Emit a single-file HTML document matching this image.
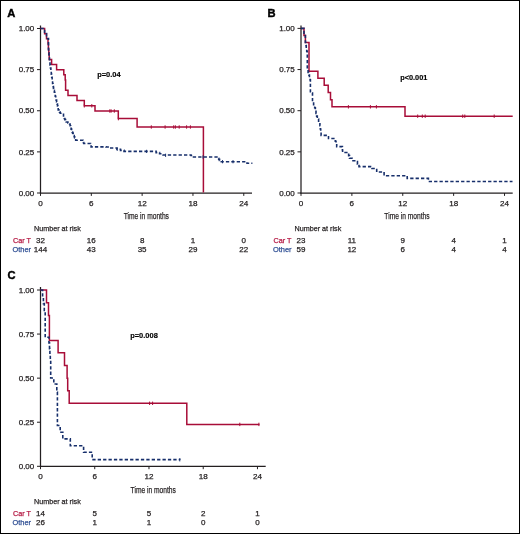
<!DOCTYPE html>
<html><head><meta charset="utf-8"><title>Figure</title>
<style>
html,body{margin:0;padding:0;background:#fff;}
body{width:520px;height:534px;overflow:hidden;}
svg{display:block;font-family:"Liberation Sans",Arial,Helvetica,sans-serif;}
</style></head><body>
<svg width="520" height="534" viewBox="0 0 520 534">
<rect x="0" y="0" width="520" height="534" fill="#fff"/>
<text x="7.20" y="17.00" font-size="11.20" text-anchor="start" fill="#000" stroke="#000" stroke-width="0.40" font-weight="bold">A</text><line x1="40.50" y1="25.50" x2="40.50" y2="193.60" stroke="#231f20" stroke-width="1.25"/><line x1="39.90" y1="193.00" x2="252.00" y2="193.00" stroke="#231f20" stroke-width="1.25"/><line x1="37.00" y1="193.00" x2="40.50" y2="193.00" stroke="#231f20" stroke-width="1"/><text x="34.30" y="195.70" font-size="7.80" text-anchor="end" fill="#231f20" stroke="#231f20" stroke-width="0.25" font-weight="normal" textLength="15.60" lengthAdjust="spacingAndGlyphs">0.00</text><line x1="37.00" y1="151.88" x2="40.50" y2="151.88" stroke="#231f20" stroke-width="1"/><text x="34.30" y="154.57" font-size="7.80" text-anchor="end" fill="#231f20" stroke="#231f20" stroke-width="0.25" font-weight="normal" textLength="15.60" lengthAdjust="spacingAndGlyphs">0.25</text><line x1="37.00" y1="110.75" x2="40.50" y2="110.75" stroke="#231f20" stroke-width="1"/><text x="34.30" y="113.45" font-size="7.80" text-anchor="end" fill="#231f20" stroke="#231f20" stroke-width="0.25" font-weight="normal" textLength="15.60" lengthAdjust="spacingAndGlyphs">0.50</text><line x1="37.00" y1="69.62" x2="40.50" y2="69.62" stroke="#231f20" stroke-width="1"/><text x="34.30" y="72.33" font-size="7.80" text-anchor="end" fill="#231f20" stroke="#231f20" stroke-width="0.25" font-weight="normal" textLength="15.60" lengthAdjust="spacingAndGlyphs">0.75</text><line x1="37.00" y1="28.50" x2="40.50" y2="28.50" stroke="#231f20" stroke-width="1"/><text x="34.30" y="31.20" font-size="7.80" text-anchor="end" fill="#231f20" stroke="#231f20" stroke-width="0.25" font-weight="normal" textLength="15.60" lengthAdjust="spacingAndGlyphs">1.00</text><line x1="40.50" y1="193.00" x2="40.50" y2="195.90" stroke="#231f20" stroke-width="1"/><text x="40.50" y="205.90" font-size="8.10" text-anchor="middle" fill="#231f20" stroke="#231f20" stroke-width="0.25" font-weight="normal">0</text><line x1="91.32" y1="193.00" x2="91.32" y2="195.90" stroke="#231f20" stroke-width="1"/><text x="91.32" y="205.90" font-size="8.10" text-anchor="middle" fill="#231f20" stroke="#231f20" stroke-width="0.25" font-weight="normal">6</text><line x1="142.14" y1="193.00" x2="142.14" y2="195.90" stroke="#231f20" stroke-width="1"/><text x="142.14" y="205.90" font-size="8.10" text-anchor="middle" fill="#231f20" stroke="#231f20" stroke-width="0.25" font-weight="normal">12</text><line x1="192.96" y1="193.00" x2="192.96" y2="195.90" stroke="#231f20" stroke-width="1"/><text x="192.96" y="205.90" font-size="8.10" text-anchor="middle" fill="#231f20" stroke="#231f20" stroke-width="0.25" font-weight="normal">18</text><line x1="243.78" y1="193.00" x2="243.78" y2="195.90" stroke="#231f20" stroke-width="1"/><text x="243.78" y="205.90" font-size="8.10" text-anchor="middle" fill="#231f20" stroke="#231f20" stroke-width="0.25" font-weight="normal">24</text><text x="123.75" y="219.30" font-size="9.60" text-anchor="start" fill="#231f20" stroke="#231f20" stroke-width="0.25" font-weight="normal" textLength="45.20" lengthAdjust="spacingAndGlyphs">Time in months</text><text x="34.00" y="230.80" font-size="7.80" text-anchor="start" fill="#231f20" stroke="#231f20" stroke-width="0.25" font-weight="normal" textLength="46.80" lengthAdjust="spacingAndGlyphs">Number at risk</text><text x="13.00" y="242.60" font-size="7.80" text-anchor="start" fill="#b51a44" stroke="#b51a44" stroke-width="0.25" font-weight="normal" textLength="18.00" lengthAdjust="spacingAndGlyphs">Car T</text><text x="12.50" y="252.00" font-size="7.80" text-anchor="start" fill="#2f4f94" stroke="#2f4f94" stroke-width="0.25" font-weight="normal" textLength="18.60" lengthAdjust="spacingAndGlyphs">Other</text><text x="40.50" y="242.60" font-size="8.00" text-anchor="middle" fill="#231f20" stroke="#231f20" stroke-width="0.25" font-weight="normal">32</text><text x="91.32" y="242.60" font-size="8.00" text-anchor="middle" fill="#231f20" stroke="#231f20" stroke-width="0.25" font-weight="normal">16</text><text x="142.14" y="242.60" font-size="8.00" text-anchor="middle" fill="#231f20" stroke="#231f20" stroke-width="0.25" font-weight="normal">8</text><text x="192.96" y="242.60" font-size="8.00" text-anchor="middle" fill="#231f20" stroke="#231f20" stroke-width="0.25" font-weight="normal">1</text><text x="243.78" y="242.60" font-size="8.00" text-anchor="middle" fill="#231f20" stroke="#231f20" stroke-width="0.25" font-weight="normal">0</text><text x="40.50" y="252.00" font-size="8.00" text-anchor="middle" fill="#231f20" stroke="#231f20" stroke-width="0.25" font-weight="normal">144</text><text x="91.32" y="252.00" font-size="8.00" text-anchor="middle" fill="#231f20" stroke="#231f20" stroke-width="0.25" font-weight="normal">43</text><text x="142.14" y="252.00" font-size="8.00" text-anchor="middle" fill="#231f20" stroke="#231f20" stroke-width="0.25" font-weight="normal">35</text><text x="192.96" y="252.00" font-size="8.00" text-anchor="middle" fill="#231f20" stroke="#231f20" stroke-width="0.25" font-weight="normal">29</text><text x="243.78" y="252.00" font-size="8.00" text-anchor="middle" fill="#231f20" stroke="#231f20" stroke-width="0.25" font-weight="normal">22</text><path d="M40.50,28.50 L44.60,28.50 L44.60,33.70 L46.50,33.70 L46.50,38.80 L48.00,38.80 L48.00,44.00 L48.40,44.00 L48.40,49.10 L48.80,49.10 L48.80,54.30 L49.20,54.30 L49.20,59.40 L51.60,59.40 L51.60,64.60 L56.60,64.60 L56.60,69.70 L63.80,69.70 L63.80,74.80 L65.20,74.80 L65.20,80.00 L65.60,80.00 L65.60,90.30 L68.00,90.30 L68.00,95.50 L77.00,95.50 L77.00,100.60 L84.30,100.60 L84.30,105.80 L95.00,105.80 L95.00,111.00 L118.30,111.00 L118.30,118.60 L137.10,118.60 L137.10,127.00 L203.40,127.00 L203.40,192.50" fill="none" stroke="#a80d38" stroke-width="1.5" stroke-linejoin="miter"/><line x1="84.30" y1="104.10" x2="84.30" y2="107.50" stroke="#a80d38" stroke-width="1.00"/><line x1="91.80" y1="104.10" x2="91.80" y2="107.50" stroke="#a80d38" stroke-width="1.00"/><line x1="109.80" y1="109.30" x2="109.80" y2="112.70" stroke="#a80d38" stroke-width="1.00"/><line x1="111.10" y1="109.30" x2="111.10" y2="112.70" stroke="#a80d38" stroke-width="1.00"/><line x1="114.30" y1="109.30" x2="114.30" y2="112.70" stroke="#a80d38" stroke-width="1.00"/><line x1="118.40" y1="116.90" x2="118.40" y2="120.30" stroke="#a80d38" stroke-width="1.00"/><line x1="151.30" y1="125.30" x2="151.30" y2="128.70" stroke="#a80d38" stroke-width="1.00"/><line x1="165.10" y1="125.30" x2="165.10" y2="128.70" stroke="#a80d38" stroke-width="1.00"/><line x1="173.70" y1="125.30" x2="173.70" y2="128.70" stroke="#a80d38" stroke-width="1.00"/><line x1="175.40" y1="125.30" x2="175.40" y2="128.70" stroke="#a80d38" stroke-width="1.00"/><line x1="179.20" y1="125.30" x2="179.20" y2="128.70" stroke="#a80d38" stroke-width="1.00"/><line x1="186.60" y1="125.30" x2="186.60" y2="128.70" stroke="#a80d38" stroke-width="1.00"/><line x1="190.40" y1="125.30" x2="190.40" y2="128.70" stroke="#a80d38" stroke-width="1.00"/><path d="M40.50,28.50 L44.60,28.50 L44.60,33.50 L46.50,33.50 L46.50,38.50 L48.00,38.50 L48.50,38.50 L48.50,52.70 L49.00,52.70 L49.00,56.80 L49.50,56.80 L49.50,60.90 L50.00,60.90 L50.00,65.00 L50.43,65.00 L50.43,68.07 L50.86,68.07 L50.86,71.14 L51.29,71.14 L51.29,74.21 L51.71,74.21 L51.71,77.29 L52.14,77.29 L52.14,80.36 L52.57,80.36 L52.57,83.43 L53.00,83.43 L53.00,86.50 L53.45,86.50 L53.45,88.44 L53.90,88.44 L53.90,90.38 L54.35,90.38 L54.35,92.32 L54.80,92.32 L54.80,94.26 L55.25,94.26 L55.25,96.20 L55.70,96.20 L55.70,98.14 L56.15,98.14 L56.15,100.08 L56.60,100.08 L56.60,102.02 L57.05,102.02 L57.05,103.96 L57.50,103.96 L57.50,105.90 L57.85,105.90 L57.85,107.90 L58.20,107.90 L58.20,109.90 L58.87,109.90 L58.87,111.03 L59.53,111.03 L59.53,112.17 L60.20,112.17 L60.20,113.30 L63.50,113.30 L63.50,114.00 L63.50,117.30 L64.17,117.30 L64.17,118.47 L64.85,118.47 L64.85,119.65 L65.53,119.65 L65.53,120.83 L66.20,120.83 L66.20,122.00 L67.90,122.00 L67.90,123.00 L69.60,123.00 L69.60,124.00 L70.10,124.00 L70.10,125.70 L70.60,125.70 L70.60,127.40 L71.10,127.40 L71.10,129.10 L71.60,129.10 L71.60,130.80 L72.11,130.80 L72.11,131.98 L72.62,131.98 L72.62,133.15 L73.14,133.15 L73.14,134.32 L73.65,134.32 L73.65,135.50 L74.16,135.50 L74.16,136.68 L74.67,136.68 L74.67,137.85 L75.19,137.85 L75.19,139.02 L75.70,139.02 L75.70,140.20 L83.00,140.20 L83.00,141.50 L83.35,141.50 L83.35,142.50 L83.70,142.50 L83.70,143.50 L90.50,143.50 L90.50,143.80 L91.10,143.80 L91.10,146.90 L106.00,146.90 L106.00,147.00 L110.00,147.00 L110.00,148.00 L117.00,148.00 L117.00,149.30 L120.50,149.30 L120.50,150.35 L124.00,150.35 L124.00,151.40 L152.70,151.40 L156.13,151.40 L156.13,152.60 L159.57,152.60 L159.57,153.80 L163.00,153.80 L163.00,155.00 L191.00,155.00 L191.00,155.50 L193.50,155.50 L193.50,157.00 L217.00,157.00 L217.85,157.00 L217.85,158.18 L218.70,158.18 L218.70,159.35 L219.55,159.35 L219.55,160.52 L220.40,160.52 L220.40,161.70 L244.60,161.70 L247.00,161.70 L247.00,163.30 L252.40,163.30" fill="none" stroke="#172f6b" stroke-width="1.6" stroke-dasharray="3.3 2.1"/><line x1="117.20" y1="147.70" x2="117.20" y2="150.90" stroke="#172f6b" stroke-width="1.00"/><line x1="146.60" y1="149.80" x2="146.60" y2="153.00" stroke="#172f6b" stroke-width="1.00"/><line x1="165.60" y1="153.70" x2="165.60" y2="156.90" stroke="#172f6b" stroke-width="1.00"/><line x1="203.00" y1="155.40" x2="203.00" y2="158.60" stroke="#172f6b" stroke-width="1.00"/><line x1="222.50" y1="160.10" x2="222.50" y2="163.30" stroke="#172f6b" stroke-width="1.00"/><line x1="233.00" y1="160.10" x2="233.00" y2="163.30" stroke="#172f6b" stroke-width="1.00"/><text x="97.20" y="77.20" font-size="7.40" text-anchor="start" fill="#000" stroke="#000" stroke-width="0.15" font-weight="bold" textLength="23.40" lengthAdjust="spacingAndGlyphs">p=0.04</text>
<text x="267.60" y="17.00" font-size="11.20" text-anchor="start" fill="#000" stroke="#000" stroke-width="0.40" font-weight="bold">B</text><line x1="301.00" y1="25.40" x2="301.00" y2="193.60" stroke="#231f20" stroke-width="1.25"/><line x1="300.40" y1="193.00" x2="512.70" y2="193.00" stroke="#231f20" stroke-width="1.25"/><line x1="297.50" y1="193.00" x2="301.00" y2="193.00" stroke="#231f20" stroke-width="1"/><text x="294.80" y="195.70" font-size="7.80" text-anchor="end" fill="#231f20" stroke="#231f20" stroke-width="0.25" font-weight="normal" textLength="15.60" lengthAdjust="spacingAndGlyphs">0.00</text><line x1="297.50" y1="151.85" x2="301.00" y2="151.85" stroke="#231f20" stroke-width="1"/><text x="294.80" y="154.55" font-size="7.80" text-anchor="end" fill="#231f20" stroke="#231f20" stroke-width="0.25" font-weight="normal" textLength="15.60" lengthAdjust="spacingAndGlyphs">0.25</text><line x1="297.50" y1="110.70" x2="301.00" y2="110.70" stroke="#231f20" stroke-width="1"/><text x="294.80" y="113.40" font-size="7.80" text-anchor="end" fill="#231f20" stroke="#231f20" stroke-width="0.25" font-weight="normal" textLength="15.60" lengthAdjust="spacingAndGlyphs">0.50</text><line x1="297.50" y1="69.55" x2="301.00" y2="69.55" stroke="#231f20" stroke-width="1"/><text x="294.80" y="72.25" font-size="7.80" text-anchor="end" fill="#231f20" stroke="#231f20" stroke-width="0.25" font-weight="normal" textLength="15.60" lengthAdjust="spacingAndGlyphs">0.75</text><line x1="297.50" y1="28.40" x2="301.00" y2="28.40" stroke="#231f20" stroke-width="1"/><text x="294.80" y="31.10" font-size="7.80" text-anchor="end" fill="#231f20" stroke="#231f20" stroke-width="0.25" font-weight="normal" textLength="15.60" lengthAdjust="spacingAndGlyphs">1.00</text><line x1="301.00" y1="193.00" x2="301.00" y2="195.90" stroke="#231f20" stroke-width="1"/><text x="301.00" y="205.90" font-size="8.10" text-anchor="middle" fill="#231f20" stroke="#231f20" stroke-width="0.25" font-weight="normal">0</text><line x1="351.88" y1="193.00" x2="351.88" y2="195.90" stroke="#231f20" stroke-width="1"/><text x="351.88" y="205.90" font-size="8.10" text-anchor="middle" fill="#231f20" stroke="#231f20" stroke-width="0.25" font-weight="normal">6</text><line x1="402.76" y1="193.00" x2="402.76" y2="195.90" stroke="#231f20" stroke-width="1"/><text x="402.76" y="205.90" font-size="8.10" text-anchor="middle" fill="#231f20" stroke="#231f20" stroke-width="0.25" font-weight="normal">12</text><line x1="453.64" y1="193.00" x2="453.64" y2="195.90" stroke="#231f20" stroke-width="1"/><text x="453.64" y="205.90" font-size="8.10" text-anchor="middle" fill="#231f20" stroke="#231f20" stroke-width="0.25" font-weight="normal">18</text><line x1="504.52" y1="193.00" x2="504.52" y2="195.90" stroke="#231f20" stroke-width="1"/><text x="504.52" y="205.90" font-size="8.10" text-anchor="middle" fill="#231f20" stroke="#231f20" stroke-width="0.25" font-weight="normal">24</text><text x="384.35" y="219.30" font-size="9.60" text-anchor="start" fill="#231f20" stroke="#231f20" stroke-width="0.25" font-weight="normal" textLength="45.20" lengthAdjust="spacingAndGlyphs">Time in months</text><text x="294.50" y="230.80" font-size="7.80" text-anchor="start" fill="#231f20" stroke="#231f20" stroke-width="0.25" font-weight="normal" textLength="46.80" lengthAdjust="spacingAndGlyphs">Number at risk</text><text x="273.50" y="242.60" font-size="7.80" text-anchor="start" fill="#b51a44" stroke="#b51a44" stroke-width="0.25" font-weight="normal" textLength="18.00" lengthAdjust="spacingAndGlyphs">Car T</text><text x="273.00" y="252.00" font-size="7.80" text-anchor="start" fill="#2f4f94" stroke="#2f4f94" stroke-width="0.25" font-weight="normal" textLength="18.60" lengthAdjust="spacingAndGlyphs">Other</text><text x="301.00" y="242.60" font-size="8.00" text-anchor="middle" fill="#231f20" stroke="#231f20" stroke-width="0.25" font-weight="normal">23</text><text x="351.88" y="242.60" font-size="8.00" text-anchor="middle" fill="#231f20" stroke="#231f20" stroke-width="0.25" font-weight="normal">11</text><text x="402.76" y="242.60" font-size="8.00" text-anchor="middle" fill="#231f20" stroke="#231f20" stroke-width="0.25" font-weight="normal">9</text><text x="453.64" y="242.60" font-size="8.00" text-anchor="middle" fill="#231f20" stroke="#231f20" stroke-width="0.25" font-weight="normal">4</text><text x="504.52" y="242.60" font-size="8.00" text-anchor="middle" fill="#231f20" stroke="#231f20" stroke-width="0.25" font-weight="normal">1</text><text x="301.00" y="252.00" font-size="8.00" text-anchor="middle" fill="#231f20" stroke="#231f20" stroke-width="0.25" font-weight="normal">59</text><text x="351.88" y="252.00" font-size="8.00" text-anchor="middle" fill="#231f20" stroke="#231f20" stroke-width="0.25" font-weight="normal">12</text><text x="402.76" y="252.00" font-size="8.00" text-anchor="middle" fill="#231f20" stroke="#231f20" stroke-width="0.25" font-weight="normal">6</text><text x="453.64" y="252.00" font-size="8.00" text-anchor="middle" fill="#231f20" stroke="#231f20" stroke-width="0.25" font-weight="normal">4</text><text x="504.52" y="252.00" font-size="8.00" text-anchor="middle" fill="#231f20" stroke="#231f20" stroke-width="0.25" font-weight="normal">4</text><path d="M301.00,28.40 L304.00,28.40 L304.00,35.50 L305.40,35.50 L305.40,42.60 L309.00,42.60 L309.00,71.20 L317.90,71.20 L317.90,78.20 L324.20,78.20 L324.20,85.30 L328.20,85.30 L328.20,92.60 L330.50,92.60 L330.50,99.80 L332.00,99.80 L332.00,106.80 L405.00,106.80 L405.00,116.20 L512.70,116.20" fill="none" stroke="#a80d38" stroke-width="1.5" stroke-linejoin="miter"/><line x1="348.40" y1="105.10" x2="348.40" y2="108.50" stroke="#a80d38" stroke-width="1.00"/><line x1="370.40" y1="105.10" x2="370.40" y2="108.50" stroke="#a80d38" stroke-width="1.00"/><line x1="376.40" y1="105.10" x2="376.40" y2="108.50" stroke="#a80d38" stroke-width="1.00"/><line x1="417.70" y1="114.50" x2="417.70" y2="117.90" stroke="#a80d38" stroke-width="1.00"/><line x1="422.30" y1="114.50" x2="422.30" y2="117.90" stroke="#a80d38" stroke-width="1.00"/><line x1="425.20" y1="114.50" x2="425.20" y2="117.90" stroke="#a80d38" stroke-width="1.00"/><line x1="462.70" y1="114.50" x2="462.70" y2="117.90" stroke="#a80d38" stroke-width="1.00"/><line x1="464.80" y1="114.50" x2="464.80" y2="117.90" stroke="#a80d38" stroke-width="1.00"/><line x1="494.20" y1="114.50" x2="494.20" y2="117.90" stroke="#a80d38" stroke-width="1.00"/><path d="M301.00,28.40 L304.00,28.40 L304.00,35.50 L305.40,35.50 L305.40,42.50 L305.80,42.50 L305.80,45.50 L306.27,45.50 L306.27,48.43 L306.73,48.43 L306.73,51.37 L307.20,51.37 L307.20,54.30 L307.30,54.30 L307.30,69.00 L308.10,69.00 L308.10,72.50 L308.77,72.50 L308.77,74.97 L309.43,74.97 L309.43,77.43 L310.10,77.43 L310.10,79.90 L310.40,79.90 L310.40,93.00 L312.50,93.00 L312.50,101.60 L313.60,101.60 L313.60,104.65 L314.70,104.65 L314.70,107.70 L315.35,107.70 L315.35,110.53 L316.00,110.53 L316.00,113.35 L316.65,113.35 L316.65,116.17 L317.30,116.17 L317.30,119.00 L318.60,119.00 L318.60,122.40 L319.90,122.40 L319.90,125.80 L320.30,125.80 L320.30,129.00 L320.70,129.00 L320.70,132.20 L321.10,132.20 L321.10,135.40 L328.50,135.40 L328.50,138.50 L334.60,138.50 L335.30,138.50 L335.30,141.20 L336.00,141.20 L336.00,143.90 L336.70,143.90 L336.70,146.60 L342.40,146.60 L342.40,150.00 L342.60,150.00 L342.60,152.50 L347.80,152.50 L347.80,153.00 L348.65,153.00 L348.65,155.60 L349.50,155.60 L349.50,158.20 L352.10,158.20 L352.10,160.80 L355.90,160.80 L355.90,161.60 L357.45,161.60 L357.45,164.10 L359.00,164.10 L359.00,166.60 L372.00,166.60 L372.00,166.80 L372.00,168.50 L376.70,168.50 L376.70,172.00 L384.10,172.00 L384.10,175.70 L407.20,175.70 L407.20,178.40 L428.40,178.40 L428.40,181.50 L512.50,181.50" fill="none" stroke="#172f6b" stroke-width="1.6" stroke-dasharray="3.3 2.1"/><text x="400.20" y="79.50" font-size="7.40" text-anchor="start" fill="#000" stroke="#000" stroke-width="0.15" font-weight="bold" textLength="27.20" lengthAdjust="spacingAndGlyphs">p&lt;0.001</text>
<text x="7.40" y="279.00" font-size="11.20" text-anchor="start" fill="#000" stroke="#000" stroke-width="0.40" font-weight="bold">C</text><line x1="40.50" y1="287.00" x2="40.50" y2="466.90" stroke="#231f20" stroke-width="1.25"/><line x1="39.90" y1="466.30" x2="265.70" y2="466.30" stroke="#231f20" stroke-width="1.25"/><line x1="37.00" y1="466.30" x2="40.50" y2="466.30" stroke="#231f20" stroke-width="1"/><text x="34.30" y="469.00" font-size="7.80" text-anchor="end" fill="#231f20" stroke="#231f20" stroke-width="0.25" font-weight="normal" textLength="15.60" lengthAdjust="spacingAndGlyphs">0.00</text><line x1="37.00" y1="422.23" x2="40.50" y2="422.23" stroke="#231f20" stroke-width="1"/><text x="34.30" y="424.93" font-size="7.80" text-anchor="end" fill="#231f20" stroke="#231f20" stroke-width="0.25" font-weight="normal" textLength="15.60" lengthAdjust="spacingAndGlyphs">0.25</text><line x1="37.00" y1="378.15" x2="40.50" y2="378.15" stroke="#231f20" stroke-width="1"/><text x="34.30" y="380.85" font-size="7.80" text-anchor="end" fill="#231f20" stroke="#231f20" stroke-width="0.25" font-weight="normal" textLength="15.60" lengthAdjust="spacingAndGlyphs">0.50</text><line x1="37.00" y1="334.07" x2="40.50" y2="334.07" stroke="#231f20" stroke-width="1"/><text x="34.30" y="336.77" font-size="7.80" text-anchor="end" fill="#231f20" stroke="#231f20" stroke-width="0.25" font-weight="normal" textLength="15.60" lengthAdjust="spacingAndGlyphs">0.75</text><line x1="37.00" y1="290.00" x2="40.50" y2="290.00" stroke="#231f20" stroke-width="1"/><text x="34.30" y="292.70" font-size="7.80" text-anchor="end" fill="#231f20" stroke="#231f20" stroke-width="0.25" font-weight="normal" textLength="15.60" lengthAdjust="spacingAndGlyphs">1.00</text><line x1="40.50" y1="466.30" x2="40.50" y2="469.20" stroke="#231f20" stroke-width="1"/><text x="40.50" y="479.20" font-size="8.10" text-anchor="middle" fill="#231f20" stroke="#231f20" stroke-width="0.25" font-weight="normal">0</text><line x1="94.74" y1="466.30" x2="94.74" y2="469.20" stroke="#231f20" stroke-width="1"/><text x="94.74" y="479.20" font-size="8.10" text-anchor="middle" fill="#231f20" stroke="#231f20" stroke-width="0.25" font-weight="normal">6</text><line x1="148.98" y1="466.30" x2="148.98" y2="469.20" stroke="#231f20" stroke-width="1"/><text x="148.98" y="479.20" font-size="8.10" text-anchor="middle" fill="#231f20" stroke="#231f20" stroke-width="0.25" font-weight="normal">12</text><line x1="203.22" y1="466.30" x2="203.22" y2="469.20" stroke="#231f20" stroke-width="1"/><text x="203.22" y="479.20" font-size="8.10" text-anchor="middle" fill="#231f20" stroke="#231f20" stroke-width="0.25" font-weight="normal">18</text><line x1="257.46" y1="466.30" x2="257.46" y2="469.20" stroke="#231f20" stroke-width="1"/><text x="257.46" y="479.20" font-size="8.10" text-anchor="middle" fill="#231f20" stroke="#231f20" stroke-width="0.25" font-weight="normal">24</text><text x="130.60" y="492.60" font-size="9.60" text-anchor="start" fill="#231f20" stroke="#231f20" stroke-width="0.25" font-weight="normal" textLength="45.20" lengthAdjust="spacingAndGlyphs">Time in months</text><text x="34.00" y="504.10" font-size="7.80" text-anchor="start" fill="#231f20" stroke="#231f20" stroke-width="0.25" font-weight="normal" textLength="46.80" lengthAdjust="spacingAndGlyphs">Number at risk</text><text x="13.00" y="515.90" font-size="7.80" text-anchor="start" fill="#b51a44" stroke="#b51a44" stroke-width="0.25" font-weight="normal" textLength="18.00" lengthAdjust="spacingAndGlyphs">Car T</text><text x="12.50" y="525.30" font-size="7.80" text-anchor="start" fill="#2f4f94" stroke="#2f4f94" stroke-width="0.25" font-weight="normal" textLength="18.60" lengthAdjust="spacingAndGlyphs">Other</text><text x="40.50" y="515.90" font-size="8.00" text-anchor="middle" fill="#231f20" stroke="#231f20" stroke-width="0.25" font-weight="normal">14</text><text x="94.74" y="515.90" font-size="8.00" text-anchor="middle" fill="#231f20" stroke="#231f20" stroke-width="0.25" font-weight="normal">5</text><text x="148.98" y="515.90" font-size="8.00" text-anchor="middle" fill="#231f20" stroke="#231f20" stroke-width="0.25" font-weight="normal">5</text><text x="203.22" y="515.90" font-size="8.00" text-anchor="middle" fill="#231f20" stroke="#231f20" stroke-width="0.25" font-weight="normal">2</text><text x="257.46" y="515.90" font-size="8.00" text-anchor="middle" fill="#231f20" stroke="#231f20" stroke-width="0.25" font-weight="normal">1</text><text x="40.50" y="525.30" font-size="8.00" text-anchor="middle" fill="#231f20" stroke="#231f20" stroke-width="0.25" font-weight="normal">26</text><text x="94.74" y="525.30" font-size="8.00" text-anchor="middle" fill="#231f20" stroke="#231f20" stroke-width="0.25" font-weight="normal">1</text><text x="148.98" y="525.30" font-size="8.00" text-anchor="middle" fill="#231f20" stroke="#231f20" stroke-width="0.25" font-weight="normal">1</text><text x="203.22" y="525.30" font-size="8.00" text-anchor="middle" fill="#231f20" stroke="#231f20" stroke-width="0.25" font-weight="normal">0</text><text x="257.46" y="525.30" font-size="8.00" text-anchor="middle" fill="#231f20" stroke="#231f20" stroke-width="0.25" font-weight="normal">0</text><path d="M40.50,290.00 L46.50,290.00 L46.50,302.70 L48.50,302.70 L48.50,315.40 L49.40,315.40 L49.40,340.40 L58.10,340.40 L58.10,352.80 L64.50,352.80 L64.50,365.50 L67.10,365.50 L67.10,378.30 L67.70,378.30 L67.70,390.80 L69.20,390.80 L69.20,403.30 L186.80,403.30 L186.80,424.40 L259.50,424.40" fill="none" stroke="#a80d38" stroke-width="1.5" stroke-linejoin="miter"/><line x1="149.60" y1="401.60" x2="149.60" y2="405.00" stroke="#a80d38" stroke-width="1.00"/><line x1="152.60" y1="401.60" x2="152.60" y2="405.00" stroke="#a80d38" stroke-width="1.00"/><line x1="239.80" y1="422.70" x2="239.80" y2="426.10" stroke="#a80d38" stroke-width="1.00"/><line x1="258.90" y1="422.70" x2="258.90" y2="426.10" stroke="#a80d38" stroke-width="1.00"/><path d="M40.50,290.00 L42.60,290.00 L42.60,296.80 L43.40,296.80 L43.40,303.60 L44.30,303.60 L44.30,310.40 L45.20,310.40 L45.20,337.20 L48.40,337.20 L48.95,337.20 L48.95,342.90 L49.50,342.90 L49.50,348.60 L49.90,348.60 L49.90,354.40 L50.30,354.40 L50.30,360.20 L50.70,360.20 L50.70,366.00 L50.70,378.00 L53.80,378.00 L53.80,384.00 L55.90,384.00 L56.80,384.00 L56.80,392.00 L57.40,392.00 L57.40,398.00 L57.40,425.50 L60.20,425.50 L60.20,432.30 L62.80,432.30 L62.80,438.90 L70.30,438.90 L70.30,445.80 L83.60,445.80 L83.60,452.20 L92.20,452.20 L92.20,459.60 L179.80,459.60 L179.80,459.80" fill="none" stroke="#172f6b" stroke-width="1.6" stroke-dasharray="3.3 2.1"/><line x1="179.80" y1="458.20" x2="179.80" y2="461.40" stroke="#172f6b" stroke-width="1.00"/><text x="130.20" y="337.90" font-size="7.40" text-anchor="start" fill="#000" stroke="#000" stroke-width="0.15" font-weight="bold" textLength="27.60" lengthAdjust="spacingAndGlyphs">p=0.008</text>
<rect x="0.5" y="0.5" width="519" height="533" fill="none" stroke="#000" stroke-width="1"/>
</svg>
</body></html>
